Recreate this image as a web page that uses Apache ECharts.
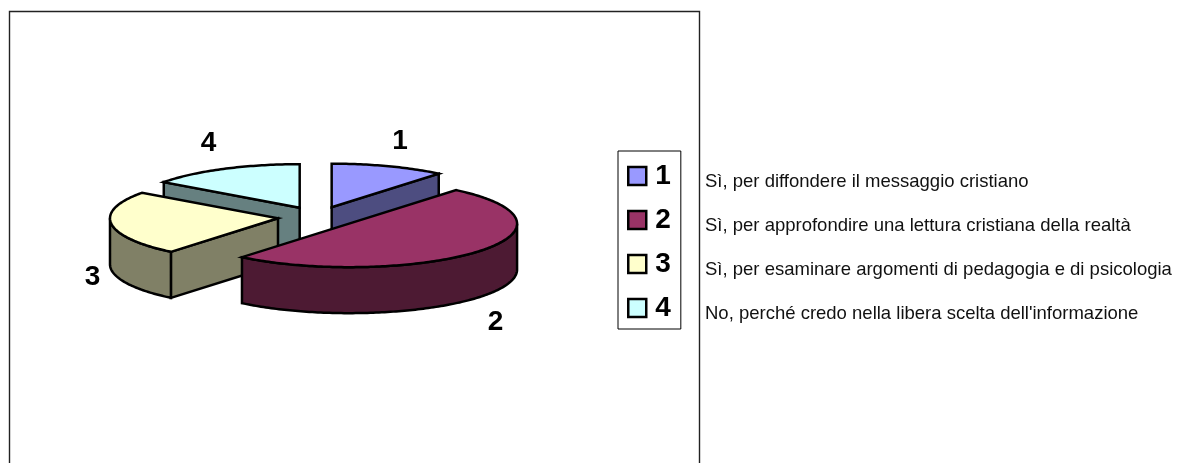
<!DOCTYPE html>
<html>
<head>
<meta charset="utf-8">
<style>
  html, body { margin: 0; padding: 0; background: #fff; overflow: hidden; }
  #chart { width: 1181px; height: 463px; }
</style>
<script src="https://cdn.jsdelivr.net/npm/echarts@6/dist/echarts.min.js"></script>
</head>
<body>
<div id="chart"></div>
<script>
// values (share of the pie, percent)
const categories = ['1', '2', '3', '4'];
const sliceValues = [11, 50, 24, 15];
const topColors = ['#9999FF', '#993366', '#FFFFCC', '#CCFFFF'];
const wallColors = ['#4D4D80', '#4D1A33', '#808066', '#668080'];
const answers = [
    'Sì, per diffondere il messaggio cristiano',
    'Sì, per approfondire una lettura cristiana della realtà',
    'Sì, per esaminare argomenti di pedagogia e di psicologia',
    "No, perché credo nella libera scelta dell'informazione"
];

// back to front, the pie has no depth buffer
const drawOrder = [3, 0, 2, 1];

// pie projection
const cx = 318, cy = 217, rx = 168, ry = 43.5, depth = 46, explode = 0.24;
const labelRx = 190, labelRy = 70;
const labelNudge = [[4, 0], [0, 8], [3, 4], [-5, -2]];
const FONT = '"Liberation Sans", Arial, sans-serif';

// start and end angle of every slice, clockwise from the top
const total = sliceValues.reduce((a, b) => a + b, 0);
let acc = 0;
const sliceAngles = sliceValues.map((v) => {
    const from = acc / total * 360;
    acc += v;
    return [from, acc / total * 360];
});

const toRad = (d) => d * Math.PI / 180;

const arcPoints = (ox, oy, from, to, dy) => {
    const pts = [];
    const steps = Math.max(1, Math.ceil(to - from));
    for (let i = 0; i <= steps; i++) {
        const a = toRad(from + (to - from) * i / steps);
        pts.push([ox + rx * Math.sin(a), oy - ry * Math.cos(a) + dy]);
    }
    return pts;
};

const renderSlice = (index) => (params, api) => {
    const from = api.value(0);
    const to = api.value(1);
    const mid = toRad((from + to) / 2);
    const ox = cx + explode * rx * Math.sin(mid);
    const oy = cy - explode * ry * Math.cos(mid);

    const lineStyle = { stroke: '#000', lineWidth: 2.5, lineJoin: 'miter' };
    const wall = { ...lineStyle, fill: wallColors[index] };
    const children = [];

    // radial walls, only the ones turned towards the viewer
    const radialWall = (ang) => {
        const edge = arcPoints(ox, oy, ang, ang, 0)[0];
        children.push({
            type: 'polygon',
            shape: { points: [[ox, oy], edge, [edge[0], edge[1] + depth], [ox, oy + depth]] },
            style: wall
        });
    };
    if (Math.sin(toRad(from)) < -1e-6) radialWall(from);
    if (Math.sin(toRad(to)) > 1e-6) radialWall(to);

    // outer wall, only the front half of the rim shows
    const wallFrom = Math.max(from, 90);
    const wallTo = Math.min(to, 270);
    if (wallTo > wallFrom) {
        children.push({
            type: 'polygon',
            shape: {
                points: arcPoints(ox, oy, wallFrom, wallTo, 0)
                    .concat(arcPoints(ox, oy, wallFrom, wallTo, depth).reverse())
            },
            style: wall
        });
    }

    // top face
    children.push({
        type: 'polygon',
        shape: { points: [[ox, oy]].concat(arcPoints(ox, oy, from, to, 0)) },
        style: { ...lineStyle, fill: topColors[index] }
    });

    // data label
    const front = Math.cos(mid) < 0 ? depth : 0;
    children.push({
        type: 'text',
        style: {
            text: categories[index],
            x: ox + labelRx * Math.sin(mid) + labelNudge[index][0],
            y: oy - labelRy * Math.cos(mid) + front + labelNudge[index][1],
            font: 'bold 28px ' + FONT,
            fill: '#000',
            align: 'center',
            verticalAlign: 'middle'
        }
    });

    return { type: 'group', children };
};

const myChart = echarts.init(document.getElementById('chart'));

myChart.setOption({
    animation: false,
    backgroundColor: '#fff',
    legend: {
        data: categories,
        orient: 'vertical',
        left: 618,
        top: 151,
        padding: [11, 10, 7, 9],
        itemWidth: 18,
        itemHeight: 18,
        itemGap: 16,
        icon: 'rect',
        borderColor: '#000',
        borderWidth: 1,
        selectedMode: false,
        itemStyle: { borderColor: '#000', borderWidth: 2.5 },
        textStyle: {
            color: '#000',
            fontFamily: FONT,
            fontWeight: 'bold',
            fontSize: 28,
            padding: [0, 0, 0, 4]
        }
    },
    graphic: [
        {
            type: 'rect',
            z: -1,
            shape: { x: 9.5, y: 11.5, width: 690, height: 480 },
            style: { fill: '#fff', stroke: '#222', lineWidth: 1.4 }
        }
    ].concat(answers.map((text, i) => ({
        type: 'text',
        left: 705,
        top: 172 + i * 44,
        style: { text, font: '18.5px ' + FONT, fill: '#111' }
    }))),
    series: drawOrder.map((i) => ({
        type: 'custom',
        name: categories[i],
        coordinateSystem: 'none',
        itemStyle: { color: topColors[i] },
        renderItem: renderSlice(i),
        data: [sliceAngles[i]],
        silent: true
    }))
});
</script>
</body>
</html>
